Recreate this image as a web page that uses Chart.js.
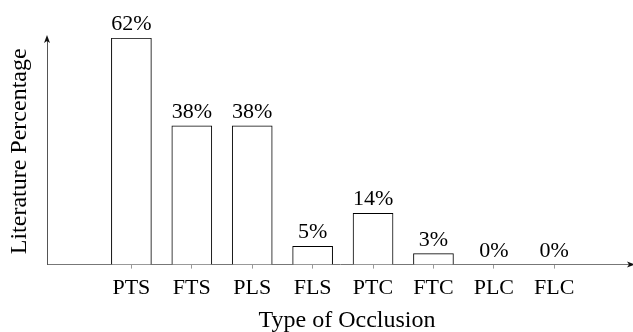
<!DOCTYPE html>
<html>
<head>
<meta charset="utf-8">
<script src="https://cdn.jsdelivr.net/npm/chart.js@4"></script>
<style>
  html, body { margin: 0; padding: 0; background: #fff; }
  #wrap { width: 633px; height: 332px; }
</style>
</head>
<body>
<div id="wrap"><canvas id="occChart"></canvas></div>
<script>
// Chart data
const categories = ['PTS', 'FTS', 'PLS', 'FLS', 'PTC', 'FTC', 'PLC', 'FLC'];
const percentages = [62, 38, 38, 5, 14, 3, 0, 0];
const xTitle = 'Type of Occlusion';
const yTitle = 'Literature Percentage';

const serif = "'Liberation Serif', 'DejaVu Serif', serif";

// Value labels, axis titles and arrow heads
const extrasPlugin = {
    id: 'extras',
    afterDraw(chart) {
        const ctx = chart.ctx;
        const area = chart.chartArea;
        ctx.save();
        ctx.fillStyle = '#000';
        ctx.font = '22px ' + serif;
        ctx.textAlign = 'center';
        ctx.textBaseline = 'alphabetic';
        chart.getDatasetMeta(0).data.forEach((bar, i) => {
            ctx.fillText(percentages[i] + '%', bar.x, bar.y - 8);
        });

        // axis titles
        ctx.font = '24px ' + serif;
        ctx.fillText(xTitle, 347, 327);
        ctx.save();
        ctx.translate(26, (area.top + area.bottom) / 2);
        ctx.rotate(-Math.PI / 2);
        ctx.fillText(yTitle, 0, 0);
        ctx.restore();

        // arrow on y axis
        ctx.fillStyle = '#111';
        ctx.beginPath();
        ctx.moveTo(area.left, area.top - 3);
        ctx.lineTo(area.left - 3, area.top + 5);
        ctx.lineTo(area.left, area.top + 3);
        ctx.lineTo(area.left + 3, area.top + 5);
        ctx.closePath();
        ctx.fill();

        // arrow on x axis (runs off the edge)
        const y = area.bottom;
        ctx.beginPath();
        ctx.moveTo(area.right + 2, y);
        ctx.lineTo(area.right - 6, y - 3);
        ctx.lineTo(area.right - 4, y);
        ctx.lineTo(area.right - 6, y + 3);
        ctx.closePath();
        ctx.fill();
        ctx.restore();
    }
};

const ctx = document.getElementById('occChart').getContext('2d');
new Chart(ctx, {
    type: 'bar',
    data: {
        datasets: [{
            data: percentages.map((v, i) => ({ x: i, y: v })),
            backgroundColor: '#fff',
            borderColor: '#000',
            borderWidth: 1,
            barThickness: 40
        }]
    },
    options: {
        responsive: true,
        maintainAspectRatio: false,
        animation: false,
        layout: { padding: { top: 38, left: 47, right: 0, bottom: 25 } },
        plugins: {
            legend: { display: false },
            tooltip: { enabled: false }
        },
        scales: {
            x: {
                type: 'linear',
                offset: false,
                min: -1.397,
                max: 8.303,
                afterBuildTicks: axis => {
                    axis.ticks = categories.map((c, i) => ({ value: i }));
                },
                ticks: {
                    autoSkip: false,
                    maxRotation: 0,
                    padding: 6,
                    color: '#000',
                    font: { family: serif, size: 22 },
                    callback: value => categories[value] || ''
                },
                grid: {
                    offset: false,
                    drawOnChartArea: false,
                    drawTicks: true,
                    tickLength: 4,
                    color: '#999'
                },
                border: { display: true, color: '#777', width: 1 }
            },
            y: {
                min: 0,
                max: 62,
                ticks: { display: false },
                grid: { display: false, drawTicks: false },
                border: { display: true, color: '#555', width: 1 }
            }
        }
    },
    plugins: [extrasPlugin]
});
</script>
</body>
</html>
